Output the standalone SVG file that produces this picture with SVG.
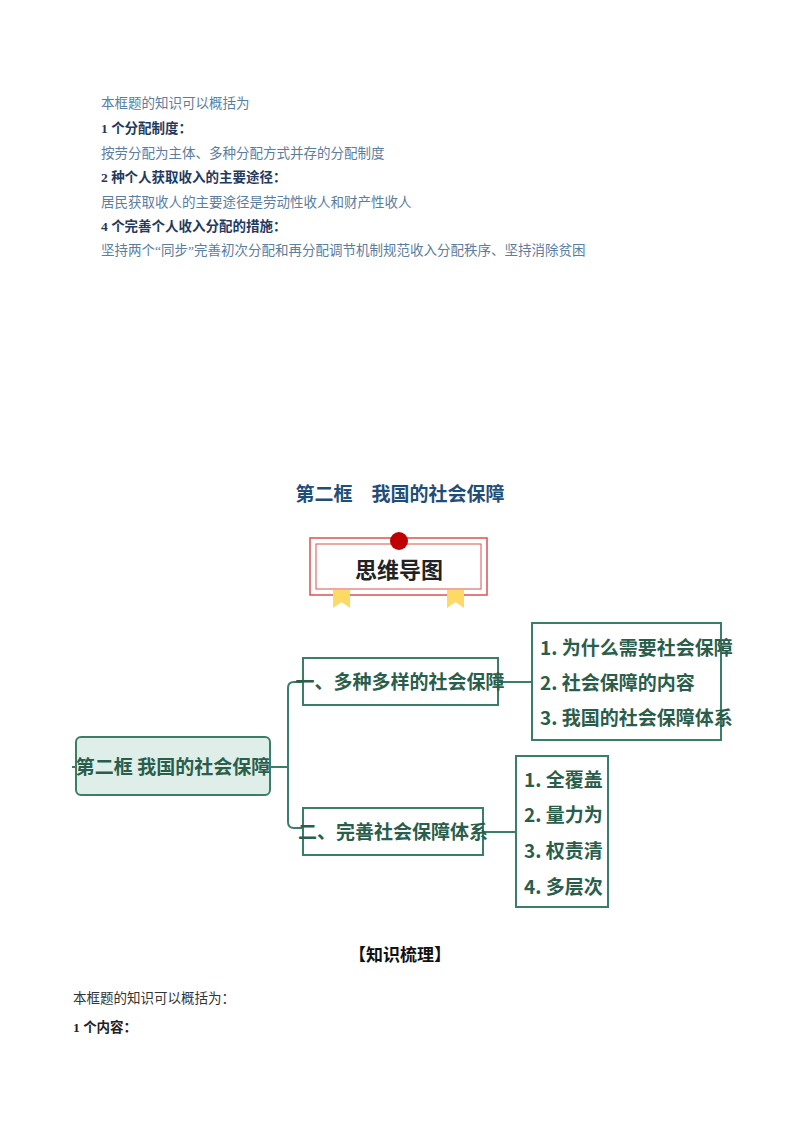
<svg xmlns="http://www.w3.org/2000/svg" width="800" height="1132" viewBox="0 0 800 1132">
<style>
.t{font-family:"Liberation Serif","Noto Sans CJK SC",serif;font-size:13.5px}
.n{fill:#5b7d9e}
.b{fill:#1f3a5f;font-weight:bold}
.m{font-family:"Noto Sans CJK SC",sans-serif;font-weight:bold;fill:#2a5e4c;font-size:19px}
.box{fill:#fff;stroke:#3a7d68;stroke-width:2}
.ln{fill:none;stroke:#3a7d68;stroke-width:2}
</style>
<rect width="800" height="1132" fill="#fff"/>
<g id="intro">
<text class="t n" x="101" y="108">本框题的知识可以概括为</text>
<text class="t b" x="101" y="133">1 个分配制度：</text>
<text class="t n" x="101" y="158">按劳分配为主体、多种分配方式并存的分配制度</text>
<text class="t b" x="101" y="182">2 种个人获取收入的主要途径：</text>
<text class="t n" x="101" y="207">居民获取收人的主要途径是劳动性收人和财产性收人</text>
<text class="t b" x="101" y="231">4 个完善个人收入分配的措施：</text>
<text class="t n" x="101" y="255">坚持两个“同步”完善初次分配和再分配调节机制规范收入分配秩序、坚持消除贫困</text>
</g>
<text x="400" y="501" text-anchor="middle" font-family="Liberation Serif,Noto Sans CJK SC,serif" font-weight="bold" font-size="19" fill="#1f4e79">第二框　我国的社会保障</text>
<g id="badge">
<rect x="310" y="538" width="177" height="57" fill="#fff" stroke="#d9534f" stroke-width="1.5"/>
<rect x="316" y="544" width="165" height="45" fill="none" stroke="#d9534f" stroke-width="1"/>
<circle cx="399" cy="541" r="9" fill="#c00000"/>
<polygon points="333,590 350,590 350,608 341.5,602 333,608" fill="#ffd966"/>
<polygon points="447,590 464,590 464,608 455.5,602 447,608" fill="#ffd966"/>
<text x="399" y="578" text-anchor="middle" font-family="Noto Sans CJK SC,sans-serif" font-weight="bold" font-size="22" fill="#222">思维导图</text>
</g>
<g id="connectors">
<path class="ln" d="M72 767H76M270 767H288M303 682H294Q288 682 288 688V822Q288 828 294 828H303M498 682H532M483 832H516"/>
</g>
<g id="root">
<rect x="76" y="737" width="194" height="58" rx="5" fill="#dfeee9" stroke="#3a7d68" stroke-width="2"/>
<text class="m" x="173" y="774" text-anchor="middle">第二框  我国的社会保障</text>
</g>
<g id="b1">
<rect class="box" x="303" y="658" width="195" height="47"/>
<text class="m" x="400" y="689" text-anchor="middle">一、多种多样的社会保障</text>
</g>
<g id="b2">
<rect class="box" x="303" y="808" width="180" height="47"/>
<text class="m" x="393" y="839" text-anchor="middle">二、完善社会保障体系</text>
</g>
<g id="l1">
<rect class="box" x="532" y="623" width="189" height="117"/>
<text class="m" x="540" y="655">1. 为什么需要社会保障</text>
<text class="m" x="540" y="690">2. 社会保障的内容</text>
<text class="m" x="540" y="725">3. 我国的社会保障体系</text>
</g>
<g id="l2">
<rect class="box" x="516" y="756" width="92" height="151"/>
<text class="m" x="524" y="787">1. 全覆盖</text>
<text class="m" x="524" y="822">2. 量力为</text>
<text class="m" x="524" y="858">3. 权责清</text>
<text class="m" x="524" y="894">4. 多层次</text>
</g>
<text x="400" y="961" text-anchor="middle" font-family="Liberation Serif,Noto Sans CJK SC,serif" font-weight="bold" font-size="17" fill="#111">【知识梳理】</text>
<text class="t" x="73" y="1003" fill="#333">本框题的知识可以概括为：</text>
<text class="t" x="73" y="1032" fill="#222" font-weight="bold">1 个内容：</text>
</svg>
